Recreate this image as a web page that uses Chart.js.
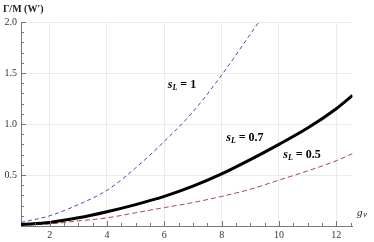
<!DOCTYPE html>
<html>
<head>
<meta charset="utf-8">
<script src="https://cdn.jsdelivr.net/npm/chart.js@4"></script>
<style>
  html, body { margin: 0; padding: 0; background: #fff; }
  canvas { display: block; }
</style>
</head>
<body>
<canvas id="widthChart" width="374" height="242"></canvas>
<script>
// values
const gvBlue = [1, 2, 3, 4, 5, 6, 7, 8, 9, 9.3];
const widthSL1 = [0.035, 0.1, 0.21, 0.35, 0.57, 0.83, 1.12, 1.48, 1.88, 2.0];
const gv = [1, 2, 3, 4, 5, 6, 7, 8, 9, 10, 11, 12, 12.57];
const widthSL07 = [0.015, 0.035, 0.08, 0.14, 0.21, 0.29, 0.39, 0.51, 0.65, 0.80, 0.96, 1.15, 1.28];
const widthSL05 = [0.01, 0.02, 0.05, 0.08, 0.13, 0.18, 0.23, 0.29, 0.36, 0.45, 0.54, 0.64, 0.71];
const xTicks = [2, 4, 6, 8, 10, 12];
const yTicks = [0.5, 1.0, 1.5, 2.0];
const curveLabels = [
    { value: '1', x: 6.12, y: 1.38 },
    { value: '0.7', x: 8.16, y: 0.86 },
    { value: '0.5', x: 10.15, y: 0.70 }
];

const serif = '"Liberation Serif", "DejaVu Serif", serif';

function pts(xs, ys) {
    return xs.map((x, i) => ({ x: x, y: ys[i] }));
}

// inward ticks, Mathematica style, plus the texts
const frameDecor = {
    id: 'frameDecor',
    afterDraw(chart) {
        const ctx = chart.ctx;
        const xs = chart.scales.x;
        const ys = chart.scales.y;
        const area = chart.chartArea;
        ctx.save();
        ctx.strokeStyle = '#777';
        ctx.lineWidth = 1;
        ctx.beginPath();
        for (let v = 1.5; v <= 12.5; v += 0.5) {
            const px = Math.round(xs.getPixelForValue(v)) + 0.5;
            const len = (v % 2 === 0) ? 5 : 3;
            ctx.moveTo(px, area.bottom);
            ctx.lineTo(px, area.bottom - len);
        }
        for (let k = 1; k <= 20; k++) {
            const v = k / 10;
            const py = Math.round(ys.getPixelForValue(v)) + 0.5;
            const len = (k % 5 === 0) ? 5 : 3;
            ctx.moveTo(area.left, py);
            ctx.lineTo(area.left + len, py);
        }
        ctx.stroke();

        // y title
        ctx.fillStyle = '#222';
        ctx.textBaseline = 'middle';
        ctx.textAlign = 'left';
        ctx.font = 'bold 10px ' + serif;
        ctx.fillText('\u0393/M (W\u2032)', 3, 9);

        // x title
        ctx.font = 'italic 11px ' + serif;
        ctx.fillText('g', 357, 213);
        ctx.font = 'italic 9px ' + serif;
        ctx.fillText('v', 363, 215);

        // curve labels
        ctx.fillStyle = '#000';
        curveLabels.forEach(l => {
            let px = xs.getPixelForValue(l.x);
            const py = ys.getPixelForValue(l.y);
            ctx.font = 'bold italic 12px ' + serif;
            ctx.fillText('s', px, py);
            px += ctx.measureText('s').width;
            ctx.font = 'bold italic 8px ' + serif;
            ctx.fillText('L', px, py + 3);
            px += ctx.measureText('L').width;
            ctx.font = 'bold 12px ' + serif;
            ctx.fillText(' = ' + l.value, px, py);
        });
        ctx.restore();
    }
};

const chart = new Chart(document.getElementById('widthChart'), {
    type: 'line',
    data: {
        datasets: [
            {
                label: 's_L = 1',
                data: pts(gvBlue, widthSL1),
                borderColor: '#4a4ab4',
                borderWidth: 1,
                borderDash: [4, 3],
                pointRadius: 0,
                cubicInterpolationMode: 'monotone'
            },
            {
                label: 's_L = 0.7',
                data: pts(gv, widthSL07),
                borderColor: '#000',
                borderWidth: 3,
                pointRadius: 0,
                cubicInterpolationMode: 'monotone'
            },
            {
                label: 's_L = 0.5',
                data: pts(gv, widthSL05),
                borderColor: '#b04848',
                borderWidth: 1,
                borderDash: [5, 3],
                pointRadius: 0,
                cubicInterpolationMode: 'monotone'
            }
        ]
    },
    options: {
        responsive: false,
        animation: false,
        layout: { padding: { top: 22, right: 21.5, left: 0, bottom: 0 } },
        plugins: { legend: { display: false }, tooltip: { enabled: false } },
        scales: {
            x: {
                type: 'linear',
                min: 1,
                max: 12.566,
                afterBuildTicks: s => { s.ticks = xTicks.map(v => ({ value: v })); },
                afterFit: s => { s.height = 16; },
                grid: { color: '#ebebeb', drawTicks: false, tickLength: 0 },
                border: { color: '#777', width: 1 },
                ticks: { padding: 3, color: '#333', font: { family: serif, size: 10 } }
            },
            y: {
                min: 0,
                max: 2.0,
                afterBuildTicks: s => { s.ticks = yTicks.map(v => ({ value: v })); },
                afterFit: s => { s.width = 21; },
                grid: { color: '#ebebeb', drawTicks: false, tickLength: 0 },
                border: { color: '#777', width: 1 },
                ticks: {
                    padding: 4,
                    color: '#333',
                    font: { family: serif, size: 10 },
                    callback: v => v.toFixed(1)
                }
            }
        }
    },
    plugins: [frameDecor]
});
</script>
</body>
</html>
